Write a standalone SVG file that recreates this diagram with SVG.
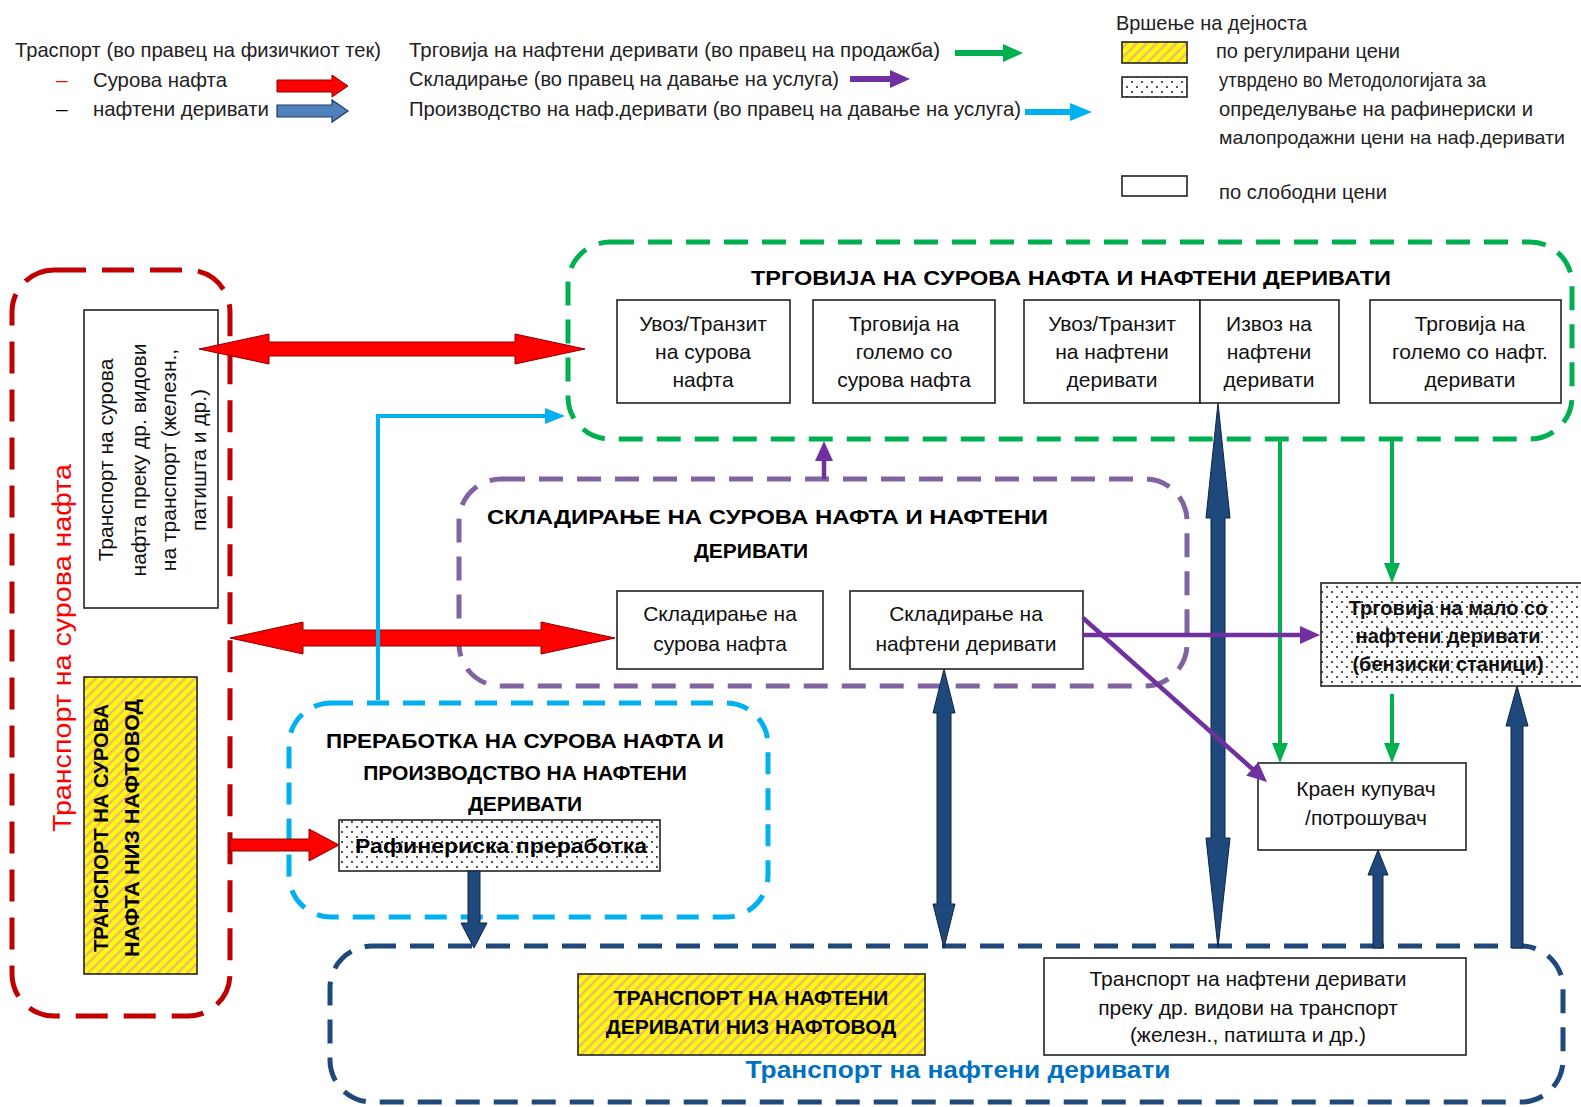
<svg xmlns="http://www.w3.org/2000/svg" width="1581" height="1107" viewBox="0 0 1581 1107">
<style>
.lg{font-family:"Liberation Sans Narrow","Liberation Sans",Arial,sans-serif;font-size:21px;fill:#222}
.bx{font-family:"Liberation Sans",Arial,sans-serif;font-size:21px;fill:#111;text-anchor:middle}
.rb{font-family:"Liberation Sans",Arial,sans-serif;font-size:20px;fill:#111;text-anchor:middle}
.tt{font-family:"Liberation Sans",Arial,sans-serif;font-size:21px;font-weight:bold;fill:#000;text-anchor:middle}
.box{fill:#fff;stroke:#222;stroke-width:1.6}
.cont{fill:none;stroke-width:5}
.red{fill:#ff0000;stroke:#8b0000;stroke-width:1}
.blue{fill:#1f497d;stroke:#0f2440;stroke-width:1}
.gl{stroke:#00b050;stroke-width:4;fill:none}
.pl{stroke:#7030a0;stroke-width:4.5;fill:none}
.cl{stroke:#00b0f0;stroke-width:4;fill:none}
</style>
<defs>
<pattern id="hatch" patternUnits="userSpaceOnUse" width="7" height="7" patternTransform="rotate(45)">
<rect width="7" height="7" fill="#ffff00"/>
<line x1="1.5" y1="0" x2="1.5" y2="7" stroke="#f2b27a" stroke-width="2.4"/>
</pattern>
<pattern id="dots" patternUnits="userSpaceOnUse" width="10" height="10">
<rect width="10" height="10" fill="#fff"/>
<circle cx="2" cy="2" r="0.9" fill="#000"/>
<circle cx="7" cy="7" r="0.9" fill="#000"/>
</pattern>
<marker id="mg" markerUnits="userSpaceOnUse" markerWidth="20" markerHeight="16" viewBox="0 0 20 16" refX="6" refY="8" orient="auto"><path d="M0,0 L20,8 L0,16 z" fill="#00b050"/></marker>
<marker id="mp" markerUnits="userSpaceOnUse" markerWidth="20" markerHeight="18" viewBox="0 0 20 18" refX="6" refY="9" orient="auto"><path d="M0,0 L20,9 L0,18 z" fill="#7030a0"/></marker>
<marker id="mc" markerUnits="userSpaceOnUse" markerWidth="20" markerHeight="16" viewBox="0 0 20 16" refX="6" refY="8" orient="auto"><path d="M0,0 L20,8 L0,16 z" fill="#00b0f0"/></marker>
</defs>
<rect width="1581" height="1107" fill="#fff"/>

<g id="legend">
<text class="lg" x="15" y="57" textLength="366" lengthAdjust="spacingAndGlyphs">Траспорт (во правец на физичкиот тек)</text>
<text class="lg" x="56" y="87" style="fill:#ff0000">–</text>
<text class="lg" x="93" y="87" textLength="134" lengthAdjust="spacingAndGlyphs">Сурова нафта</text>
<text class="lg" x="56" y="116" style="fill:#000">–</text>
<text class="lg" x="93" y="116" textLength="176" lengthAdjust="spacingAndGlyphs">нафтени деривати</text>
<polygon class="red" points="277,80 332,80 332,75 348,86 332,97 332,92 277,92"/>
<polygon points="277,105 332,105 332,100 348,111 332,122 332,117 277,117" fill="#4f81bd" stroke="#1f3864" stroke-width="1.2"/>
<text class="lg" x="409" y="57" textLength="531" lengthAdjust="spacingAndGlyphs">Трговија на нафтени деривати (во правец на продажба)</text>
<polygon points="955,50 1003,50 1003,44 1023,53 1003,62 1003,56 955,56" fill="#00b050"/>
<text class="lg" x="409" y="86" textLength="430" lengthAdjust="spacingAndGlyphs">Складирање (во правец на давање на услуга)</text>
<polygon points="850,76 890,76 890,70 910,79 890,88 890,82 850,82" fill="#7030a0"/>
<text class="lg" x="409" y="116" textLength="612" lengthAdjust="spacingAndGlyphs">Производство на наф.деривати (во правец на давање на услуга)</text>
<polygon points="1025,109 1070,109 1070,103 1092,112 1070,121 1070,115 1025,115" fill="#00b0f0"/>
<text class="lg" x="1116" y="30" textLength="191" lengthAdjust="spacingAndGlyphs">Вршење на дејноста</text>
<rect x="1122" y="42" width="65" height="21" fill="url(#hatch)" stroke="#222" stroke-width="1.6"/>
<text class="lg" x="1216" y="58" textLength="184" lengthAdjust="spacingAndGlyphs">по регулирани цени</text>
<rect x="1122" y="77" width="65" height="20" fill="url(#dots)" stroke="#222" stroke-width="1.6"/>
<text class="lg" x="1219" y="87" textLength="267" lengthAdjust="spacingAndGlyphs">утврдено во Методологијата за</text>
<text class="lg" x="1219" y="116" textLength="314" lengthAdjust="spacingAndGlyphs">определување на рафинериски и</text>
<text class="lg" x="1219" y="144" font-size="19" style="font-size:19px" textLength="346" lengthAdjust="spacingAndGlyphs">малопродажни цени на наф.деривати</text>
<rect x="1122" y="176" width="65" height="20" fill="#fff" stroke="#222" stroke-width="1.6"/>
<text class="lg" x="1219" y="199" textLength="168" lengthAdjust="spacingAndGlyphs">по слободни цени</text>
</g>

<g id="crude-transport">
<rect class="cont" x="12" y="270" width="218" height="746" rx="42" stroke="#c00000" stroke-dasharray="32 16"/>
<text transform="translate(71,648) rotate(-90)" font-family="Liberation Sans, Arial, sans-serif" font-size="26" fill="#ff0000" text-anchor="middle" textLength="368" lengthAdjust="spacingAndGlyphs">Транспорт на сурова  нафта</text>
</g>
<g id="crude-other-transport">
<rect class="box" x="84" y="310" width="134" height="298"/>
<text class="bx" font-size="20" transform="translate(113,460) rotate(-90)">Транспорт на сурова</text>
<text class="bx" font-size="20" transform="translate(146,460) rotate(-90)">нафта преку др. видови</text>
<text class="bx" font-size="20" transform="translate(176,460) rotate(-90)">на транспорт (железн.,</text>
<text class="bx" font-size="20" transform="translate(206,460) rotate(-90)">патишта и др.)</text>
</g>
<g id="crude-pipeline">
<rect x="84" y="677" width="113" height="297" fill="url(#hatch)" stroke="#222" stroke-width="1.6"/>
<text class="tt" transform="translate(108,828) rotate(-90)" font-size="20" textLength="248" lengthAdjust="spacingAndGlyphs">ТРАНСПОРТ НА СУРОВА</text>
<text class="tt" transform="translate(139,828) rotate(-90)" font-size="20" textLength="258" lengthAdjust="spacingAndGlyphs">НАФТА  НИЗ  НАФТОВОД</text>
</g>

<g id="trade">
<rect class="cont" x="568" y="242" width="1004" height="197" rx="42" stroke="#00b050" stroke-dasharray="24 14"/>
<text class="tt" x="1071" y="285" font-size="22" textLength="640" lengthAdjust="spacingAndGlyphs">ТРГОВИЈА НА СУРОВА НАФТА И НАФТЕНИ ДЕРИВАТИ</text>
</g>
<g id="import-crude">
<rect class="box" x="617" y="300" width="173" height="103"/>
<text class="bx" x="703" y="331">Увоз/Транзит</text><text class="bx" x="703" y="359">на сурова</text><text class="bx" x="703" y="387">нафта</text>
</g>
<g id="wholesale-crude">
<rect class="box" x="813" y="300" width="182" height="103"/>
<text class="bx" x="904" y="331">Трговија на</text><text class="bx" x="904" y="359">големо со</text><text class="bx" x="904" y="387">сурова нафта</text>
</g>
<g id="import-products">
<rect class="box" x="1024" y="300" width="176" height="103"/>
<text class="bx" x="1112" y="331">Увоз/Транзит</text><text class="bx" x="1112" y="359">на нафтени</text><text class="bx" x="1112" y="387">деривати</text>
</g>
<g id="export-products">
<rect class="box" x="1200" y="300" width="139" height="103"/>
<text class="bx" x="1269" y="331">Извоз на</text><text class="bx" x="1269" y="359">нафтени</text><text class="bx" x="1269" y="387">деривати</text>
</g>
<g id="wholesale-products">
<rect class="box" x="1370" y="300" width="191" height="103"/>
<text class="bx" x="1470" y="331">Трговија на</text><text class="bx" x="1470" y="359">големо со нафт.</text><text class="bx" x="1470" y="387">деривати</text>
</g>

<g id="storage">
<rect class="cont" x="459" y="479" width="728" height="207" rx="42" stroke="#8064a2" stroke-dasharray="24 14"/>
<text class="tt" x="487" y="524" style="text-anchor:start" textLength="561" lengthAdjust="spacingAndGlyphs">СКЛАДИРАЊЕ НА СУРОВА НАФТА И  НАФТЕНИ</text>
<text class="tt" x="751" y="558">ДЕРИВАТИ</text>
</g>
<g id="storage-crude">
<rect class="box" x="617" y="591" width="206" height="78"/>
<text class="bx" x="720" y="621">Складирање на</text><text class="bx" x="720" y="651">сурова нафта</text>
</g>
<g id="storage-products">
<rect class="box" x="850" y="591" width="233" height="78"/>
<text class="bx" x="966" y="621">Складирање на</text><text class="bx" x="966" y="651">нафтени деривати</text>
</g>

<g id="refining">
<rect class="cont" x="289" y="703" width="479" height="214" rx="42" stroke="#00b0f0" stroke-width="4.5" stroke-dasharray="22 14"/>
<text class="tt" x="525" y="748" textLength="398" lengthAdjust="spacingAndGlyphs">ПРЕРАБОТКА НА СУРОВА НАФТА И</text>
<text class="tt" x="525" y="780">ПРОИЗВОДСТВО НА НАФТЕНИ</text>
<text class="tt" x="525" y="811">ДЕРИВАТИ</text>
</g>
<g id="refinery">
<rect x="339" y="820" width="321" height="51" fill="url(#dots)" stroke="#222" stroke-width="1.6"/>
<text class="tt" x="501" y="853" font-size="20" textLength="292" lengthAdjust="spacingAndGlyphs">Рафинериска преработка</text>
</g>

<g id="retail">
<rect x="1321" y="583" width="262" height="103" fill="url(#dots)" stroke="#222" stroke-width="1.6"/>
<text class="rb" x="1448" y="615" font-weight="bold">Трговија на мало со</text>
<text class="rb" x="1448" y="643" font-weight="bold">нафтени деривати</text>
<text class="rb" x="1448" y="671" font-weight="bold">(бензиски станици)</text>
</g>
<g id="consumer">
<rect class="box" x="1258" y="763" width="208" height="87"/>
<text class="bx" x="1366" y="796">Краен  купувач</text>
<text class="bx" x="1366" y="825">/потрошувач</text>
</g>

<g id="product-transport">
<rect class="cont" x="330" y="946" width="1233" height="156" rx="42" stroke="#1f497d" stroke-dasharray="24 14"/>
<text x="958" y="1078" font-family="Liberation Sans, Arial, sans-serif" font-size="24" font-weight="bold" fill="#0070c0" text-anchor="middle" textLength="425" lengthAdjust="spacingAndGlyphs">Транспорт на нафтени деривати</text>
</g>
<g id="product-pipeline">
<rect x="578" y="974" width="347" height="81" fill="url(#hatch)" stroke="#222" stroke-width="1.6"/>
<text class="tt" x="751" y="1005" font-size="20">ТРАНСПОРТ НА НАФТЕНИ</text>
<text class="tt" x="751" y="1034" font-size="20">ДЕРИВАТИ НИЗ НАФТОВОД</text>
</g>
<g id="product-other-transport">
<rect class="box" x="1044" y="958" width="422" height="97"/>
<text class="bx" x="1248" y="986">Транспорт на нафтени деривати</text>
<text class="bx" x="1248" y="1015">преку др. видови на транспорт</text>
<text class="bx" x="1248" y="1042">(железн., патишта и др.)</text>
</g>

<g id="connectors">
<polygon class="red" points="199,349 269,334 269,342 515,342 515,334 585,349 515,364 515,356 269,356 269,364"/>
<polygon class="red" points="230,638 303,622 303,630 541,630 541,622 615,638 541,654 541,646 303,646 303,654"/>
<polygon class="red" points="230,839 309,839 309,829 339,845 309,861 309,851 230,851"/>
<polyline class="cl" points="378,700 378,416 551,416" marker-end="url(#mc)"/>
<polygon class="blue" points="1218,403 1230,518 1225,518 1225,838 1230,838 1218,948 1206,838 1211,838 1211,518 1206,518"/>
<polygon class="blue" points="944,669 955,713 951,713 951,904 955,904 944,948 933,904 937,904 937,713 933,713"/>
<polygon class="blue" points="1378,850 1388,875 1383,875 1383,948 1373,948 1373,875 1368,875"/>
<polygon class="blue" points="1517,686 1528,726 1523,726 1523,948 1511,948 1511,726 1506,726"/>
<polygon class="blue" points="468,871 480,871 480,923 487,923 474,948 461,923 468,923"/>
<line class="pl" x1="824" y1="479" x2="824" y2="455" marker-end="url(#mp)"/>
<line class="gl" x1="1280" y1="439" x2="1280" y2="749" marker-end="url(#mg)"/>
<line class="gl" x1="1392" y1="439" x2="1392" y2="569" marker-end="url(#mg)"/>
<line class="gl" x1="1392" y1="694" x2="1392" y2="749" marker-end="url(#mg)"/>
<line class="pl" x1="1083" y1="635" x2="1306" y2="635" marker-end="url(#mp)"/>
<line class="pl" x1="1083" y1="618" x2="1256.6" y2="772.7" marker-end="url(#mp)"/>
</g>
</svg>
